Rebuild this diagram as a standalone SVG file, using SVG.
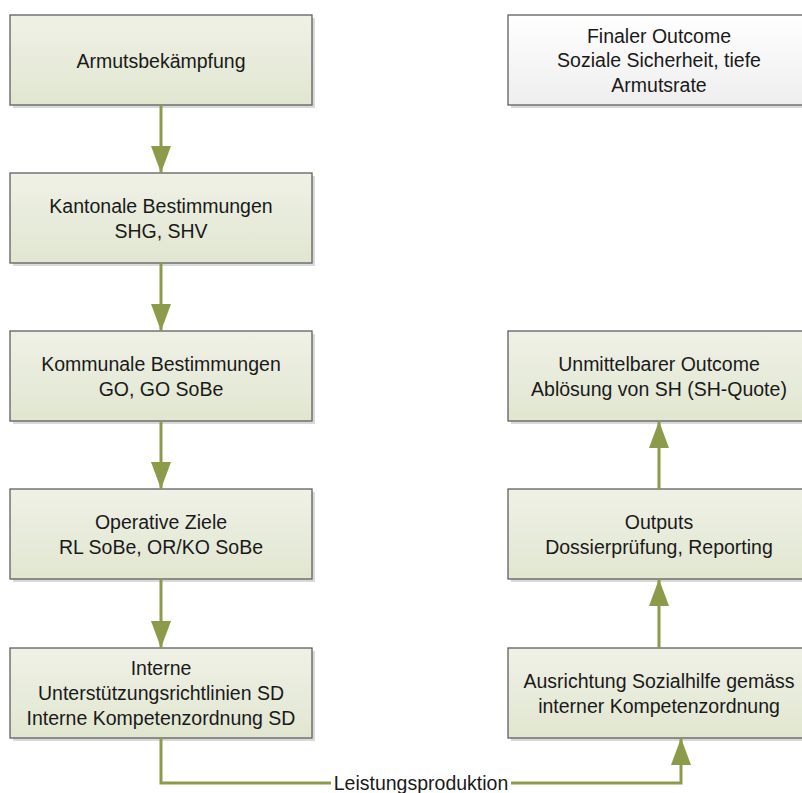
<svg xmlns="http://www.w3.org/2000/svg" width="802" height="793" viewBox="0 0 802 793">
  <defs>
    <linearGradient id="gGreen" x1="0" y1="0" x2="0" y2="1">
      <stop offset="0" stop-color="#eff1e6"/>
      <stop offset="1" stop-color="#e1e6d0"/>
    </linearGradient>
    <linearGradient id="gWhite" x1="0" y1="0" x2="0" y2="1">
      <stop offset="0" stop-color="#ffffff"/>
      <stop offset="1" stop-color="#eeeeee"/>
    </linearGradient>
    <marker id="head" markerUnits="userSpaceOnUse" viewBox="0 0 27 20" refX="27" refY="10" markerWidth="27" markerHeight="20" orient="auto">
      <path d="M0,0 L27,10 L0,20 Z" fill="#8c9b4a"/>
    </marker>
  </defs>
  <style>
    .shadow { fill: #d9d9d9; }
    .box { fill: url(#gGreen); stroke: #5f5f5f; stroke-width: 1.3; }
    .boxw { fill: url(#gWhite); stroke: #5f5f5f; stroke-width: 1.3; }
    .label { font-family: "Liberation Sans", Arial, sans-serif; font-size: 19.5px; fill: #1a1a1a; text-anchor: middle; }
    .conn { fill: none; stroke: #8c9b4a; stroke-width: 3; marker-end: url(#head); }
  </style>
  <rect width="802" height="793" fill="#ffffff"/>

  <!-- left column -->
  <g id="armut">
    <rect class="shadow" x="13" y="18" width="302" height="90"/>
    <rect class="box" x="10" y="15" width="302" height="90"/>
    <text class="label" x="161" y="68">Armutsbekämpfung</text>
  </g>
  <g id="kantonal">
    <rect class="shadow" x="13" y="176" width="302" height="90"/>
    <rect class="box" x="10" y="173" width="302" height="90"/>
    <text class="label" x="161" y="213">Kantonale Bestimmungen</text>
    <text class="label" x="161" y="238">SHG, SHV</text>
  </g>
  <g id="kommunal">
    <rect class="shadow" x="13" y="334" width="302" height="90"/>
    <rect class="box" x="10" y="331" width="302" height="90"/>
    <text class="label" x="161" y="371">Kommunale Bestimmungen</text>
    <text class="label" x="161" y="396">GO, GO SoBe</text>
  </g>
  <g id="operativ">
    <rect class="shadow" x="13" y="492" width="302" height="90"/>
    <rect class="box" x="10" y="489" width="302" height="90"/>
    <text class="label" x="161" y="529">Operative Ziele</text>
    <text class="label" x="161" y="554">RL SoBe, OR/KO SoBe</text>
  </g>
  <g id="intern">
    <rect class="shadow" x="13" y="651" width="302" height="90"/>
    <rect class="box" x="10" y="648" width="302" height="90"/>
    <text class="label" x="161" y="675">Interne</text>
    <text class="label" x="161" y="700">Unterstützungsrichtlinien SD</text>
    <text class="label" x="161" y="725">Interne Kompetenzordnung SD</text>
  </g>

  <!-- right column -->
  <g id="final">
    <rect class="shadow" x="511" y="18" width="302" height="90"/>
    <rect class="boxw" x="508" y="15" width="302" height="90"/>
    <text class="label" x="659" y="43">Finaler Outcome</text>
    <text class="label" x="659" y="67">Soziale Sicherheit, tiefe</text>
    <text class="label" x="659" y="92">Armutsrate</text>
  </g>
  <g id="unmittelbar">
    <rect class="shadow" x="511" y="334" width="302" height="90"/>
    <rect class="box" x="508" y="331" width="302" height="90"/>
    <text class="label" x="659" y="371">Unmittelbarer Outcome</text>
    <text class="label" x="659" y="396">Ablösung von SH (SH-Quote)</text>
  </g>
  <g id="outputs">
    <rect class="shadow" x="511" y="492" width="302" height="90"/>
    <rect class="box" x="508" y="489" width="302" height="90"/>
    <text class="label" x="659" y="529">Outputs</text>
    <text class="label" x="659" y="554">Dossierprüfung, Reporting</text>
  </g>
  <g id="ausrichtung">
    <rect class="shadow" x="511" y="651" width="302" height="90"/>
    <rect class="box" x="508" y="648" width="302" height="90"/>
    <text class="label" x="659" y="688">Ausrichtung Sozialhilfe gemäss</text>
    <text class="label" x="659" y="713">interner Kompetenzordnung</text>
  </g>

  <!-- connectors -->
  <g id="connectors">
    <path class="conn" d="M161,105 V173"/>
    <path class="conn" d="M161,263 V331"/>
    <path class="conn" d="M161,421 V489"/>
    <path class="conn" d="M161,579 V648"/>
    <path class="conn" d="M659,648 V579"/>
    <path class="conn" d="M659,489 V421"/>
    <path class="conn" d="M161,738 V783 H681 V738"/>
    <rect x="331" y="772" width="180" height="21" fill="#ffffff"/>
    <text class="label" x="421" y="790">Leistungsproduktion</text>
  </g>
</svg>
